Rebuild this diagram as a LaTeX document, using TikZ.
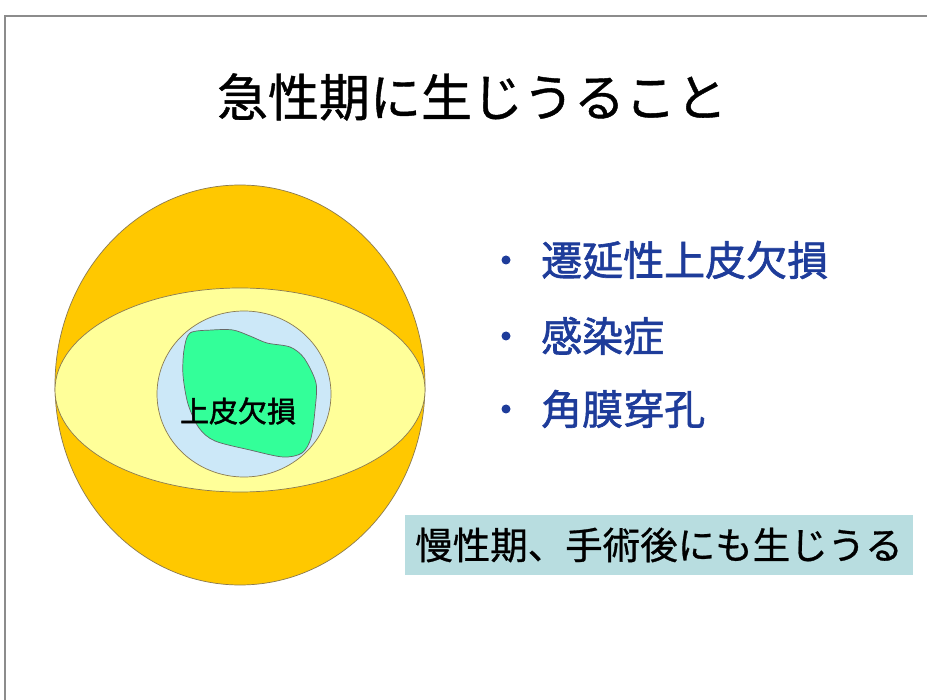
\documentclass[tikz,border=0pt]{standalone}
\usepackage{fontspec}
\setmainfont{Noto Sans CJK JP}
\newfontfamily\heavyjp[FakeBold=1.5]{Noto Sans CJK JP}
\newfontfamily\semijp[FakeBold=0.8]{Noto Sans CJK JP}
\definecolor{gold}{HTML}{FFC800}
\definecolor{paleyellow}{HTML}{FFFF99}
\definecolor{paleblue}{HTML}{CCE8F8}
\definecolor{mintgreen}{HTML}{33FF99}
\definecolor{itemblue}{HTML}{1E3C9A}
\definecolor{notefill}{HTML}{B8DDE0}
\definecolor{edgebrown}{HTML}{8A7A50}
\definecolor{framegray}{HTML}{8C8C8C}
\tikzset{
  layer/.style={draw=edgebrown, line width=0.7pt},
  titletext/.style={font=\semijp\fontsize{51}{60}\selectfont, text=black, inner sep=0pt},
  itemtext/.style={font=\heavyjp\fontsize{41}{48}\selectfont, text=itemblue, anchor=west, inner sep=0pt},
  itemdot/.style={fill=itemblue},
  notebox/.style={fill=notefill, minimum width=508pt, minimum height=60pt, inner sep=0pt},
  notetext/.style={font=\semijp\fontsize{37.5}{44}\selectfont, text=black, inner sep=0pt},
  lesiontext/.style={font=\heavyjp\fontsize{29}{34}\selectfont, text=black, inner sep=0pt}
}
\begin{document}
\begin{tikzpicture}[x=1pt, y=-1pt]
  \useasboundingbox (0,0) rectangle (927,700);
  \fill[white] (0,0) rectangle (927,700);

  % slide frame
  \draw[framegray, line width=2pt] (5,700) -- (5,16) -- (927,16);

  % title
  \node[titletext] (title) at (472,97) {急性期に生じうること};

  % eye: globe, palpebral fissure, cornea, epithelial defect
  \draw[layer, fill=gold] (240,385) ellipse [x radius=185, y radius=200];
  \draw[layer, fill=paleyellow] (240,390) ellipse [x radius=185, y radius=102];
  \draw[layer, fill=paleblue] (244,394) ellipse [x radius=87, y radius=83];
  \draw[draw=black!60, line width=0.7pt, fill=mintgreen]
    plot[smooth cycle, tension=0.5] coordinates {
      (190,333) (212,330) (233,330) (250,336) (267,343) (290,347)
      (304,358) (316,383) (315,410) (311,438) (302,453) (283,457)
      (250,450) (215,441) (199,428) (188,404) (183,375) (184,350)};
  \node[lesiontext] (lesion) at (238,411) {上皮欠損};

  % complications list
  \coordinate (d1) at (506,260);
  \coordinate (d2) at (506,336);
  \coordinate (d3) at (506,409);
  \foreach \d in {d1,d2,d3} \fill[itemdot] (\d) circle [radius=4.5];
  \node[itemtext] (i1) at (541,260) {遷延性上皮欠損};
  \node[itemtext] (i2) at (541,336) {感染症};
  \node[itemtext] (i3) at (541,409) {角膜穿孔};

  % note
  \node[notebox] (box) at (659,545) {};
  \node[notetext] (note) at (box.center) {慢性期、手術後にも生じうる};
\end{tikzpicture}
\end{document}
